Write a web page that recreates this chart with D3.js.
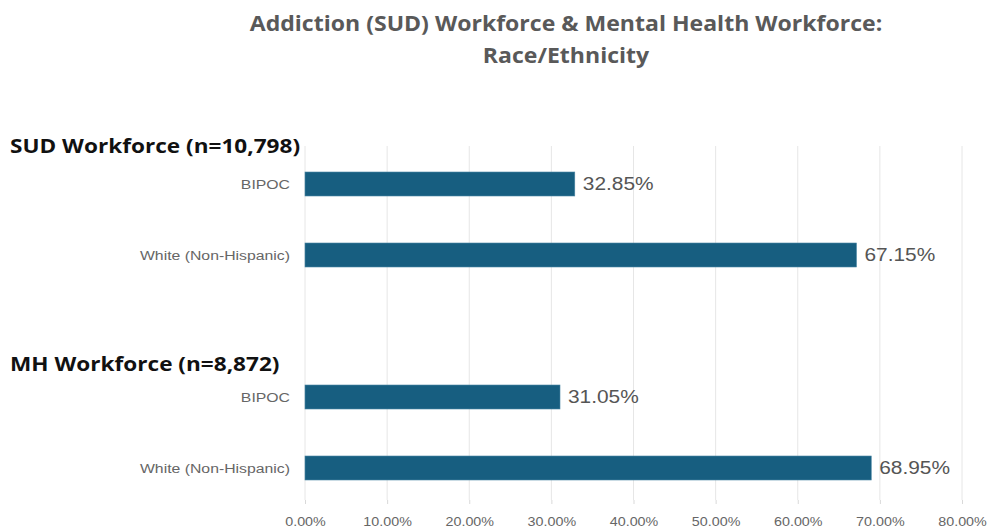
<!DOCTYPE html>
<html>
<head>
<meta charset="utf-8">
<script src="https://cdn.jsdelivr.net/npm/d3@7"></script>
<style>
  body { margin: 0; background: #fff; }
  svg { display: block; }
</style>
</head>
<body>
<div id="chart"></div>
<script>
// data
const titleLines = ["Addiction (SUD) Workforce & Mental Health Workforce:", "Race/Ethnicity"];
const groups = ["SUD Workforce (n=10,798)", "MH Workforce (n=8,872)"];
const categories = ["BIPOC", "White (Non-Hispanic)"];
const sudValues = [32.85, 67.15];
const mhValues = [31.05, 68.95];
const xTicks = [0, 10, 20, 30, 40, 50, 60, 70, 80];

const width = 990, height = 531;
const barColor = "#175e80";

const svg = d3.select("#chart").append("svg")
  .attr("width", width)
  .attr("height", height);

// the source picture is a little stretched sideways, so text gets a horizontal scale
const place = (x, y, sx) => `translate(${x},${y}) scale(${sx},1)`;

// build rows, with a blank slot between groups
const rows = [];
[sudValues, mhValues].forEach((vals, gi) => {
  if (gi > 0) rows.push({ key: "gap" + gi, blank: true });
  categories.forEach((c, i) => rows.push({ key: gi + "|" + c, group: gi, cat: c, value: vals[i], first: i === 0 }));
});

const x = d3.scaleLinear().domain([0, 80]).range([305, 962]);
const y = d3.scalePoint().domain(rows.map(d => d.key)).range([184, 468]);
const barH = 24;

// title
svg.append("g")
  .selectAll("text")
  .data(titleLines)
  .enter().append("text")
  .attr("transform", (d, i) => place(566, 31 + i * 32, 1.125))
  .attr("text-anchor", "middle")
  .style("font-family", "'Open Sans', sans-serif")
  .style("font-weight", 700)
  .style("font-size", "20.5px")
  .style("fill", "#595959")
  .text(d => d);

// gridlines
svg.append("g")
  .selectAll("line")
  .data(xTicks)
  .enter().append("line")
  .attr("x1", d => x(d)).attr("x2", d => x(d))
  .attr("y1", 146).attr("y2", 500)
  .attr("stroke", "#e6e6e6")
  .attr("stroke-width", 1);

// x axis
const xAxis = svg.append("g")
  .attr("transform", "translate(0,500)")
  .call(d3.axisBottom(x).tickValues(xTicks).tickFormat(d => d.toFixed(2) + "%").tickSize(4).tickPadding(12));
xAxis.select(".domain").remove();
xAxis.selectAll(".tick line").attr("stroke", "#d9d9d9");
xAxis.selectAll(".tick text")
  .attr("transform", "scale(1.06,1)")
  .style("font-family", "'Liberation Sans', Arial, sans-serif")
  .style("font-size", "13.5px")
  .style("fill", "#666");

const data = rows.filter(d => !d.blank);

// group headers
svg.append("g")
  .selectAll("text")
  .data(data.filter(d => d.first))
  .enter().append("text")
  .attr("transform", (d, i) => place(10, y(d.key) - (i === 0 ? 31 : 26), 1.13))
  .style("font-family", "'Open Sans', sans-serif")
  .style("font-weight", 700)
  .style("font-size", "20px")
  .style("fill", "#111")
  .text(d => groups[d.group]);

// bars
svg.append("g")
  .selectAll("rect")
  .data(data)
  .enter().append("rect")
  .attr("x", x(0))
  .attr("y", d => y(d.key) - barH / 2)
  .attr("width", d => x(d.value) - x(0))
  .attr("height", barH)
  .attr("fill", barColor)
  .attr("stroke", "#4a86a3")
  .attr("stroke-width", 0.6);

// category labels
svg.append("g")
  .selectAll("text")
  .data(data)
  .enter().append("text")
  .attr("transform", d => place(290, y(d.key), 1.17))
  .attr("dy", "0.35em")
  .attr("text-anchor", "end")
  .style("font-family", "'Liberation Sans', Arial, sans-serif")
  .style("font-size", "13.5px")
  .style("fill", "#666")
  .text(d => d.cat);

// value labels
svg.append("g")
  .selectAll("text")
  .data(data)
  .enter().append("text")
  .attr("transform", d => place(x(d.value) + 8, y(d.key), 1.16))
  .attr("dy", "0.36em")
  .style("font-family", "'Liberation Sans', Arial, sans-serif")
  .style("font-size", "18px")
  .style("fill", "#555")
  .text(d => d.value.toFixed(2) + "%");
</script>
</body>
</html>
